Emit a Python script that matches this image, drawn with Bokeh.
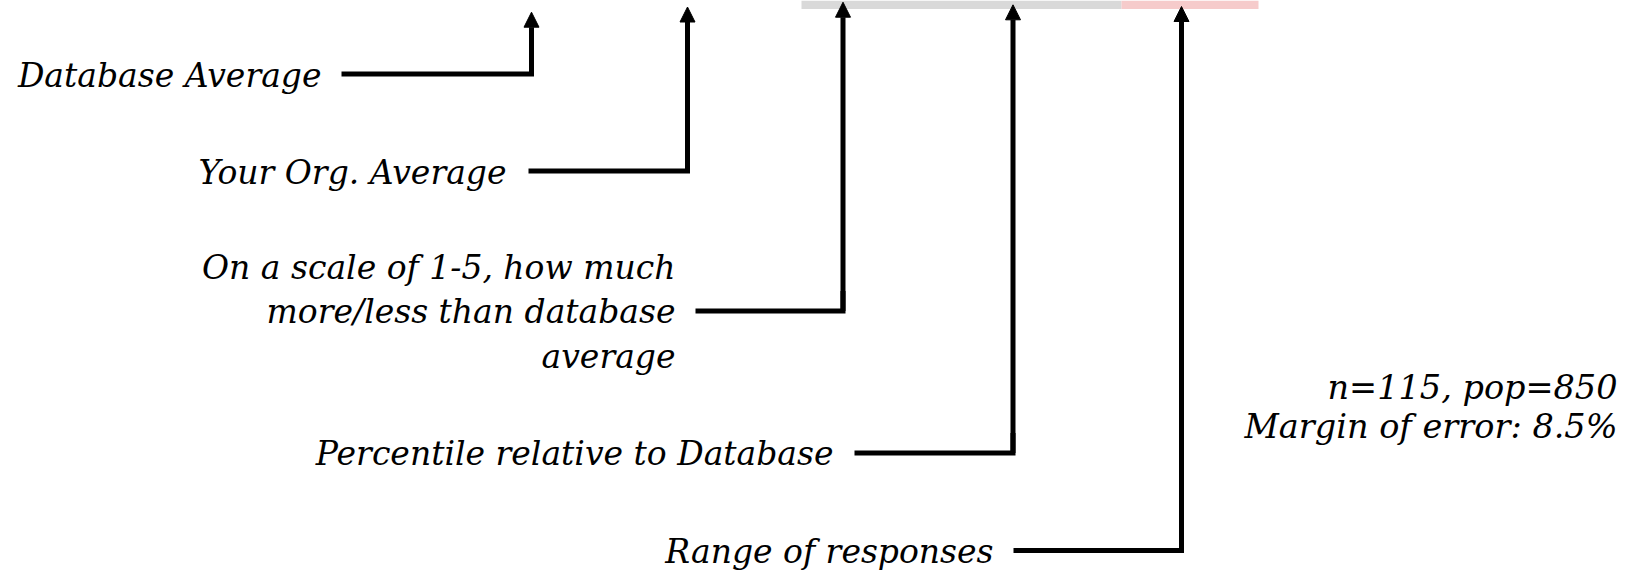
from bokeh.plotting import figure
from bokeh.models import Range1d, Arrow, NormalHead
from bokeh.core.properties import value
from bokeh.embed import file_html
from bokeh.resources import INLINE

# ---- data ----
bar_segments = ["Percentile", "Range"]
bar_left = [801, 1121]
bar_right = [1121, 1258]
bar_colors = ["#d9d9d9", "#f6cbcb"]

label_lines = [
    "Database Average",
    "Your Org. Average",
    "On a scale of 1-5, how much",
    "more/less than database",
    "average",
    "Percentile relative to Database",
    "Range of responses",
]
label_right = [321, 506, 675, 675, 675, 833, 993]
label_baseline = [75, 171.5, 267, 310.5, 356, 453, 551]

arrow_x = [531, 687, 842.5, 1012.5, 1181]
arrow_tip = [11.7, 6.5, 1.7, 4.3, 6.0]
elbow_y = [73.5, 170.5, 310.5, 452.5, 550]
line_start = [341, 528, 695, 854, 1013]

note_lines = ["n=115, pop=850", "Margin of error: 8.5%"]
note_right = [1617, 1617]
note_baseline = [386.5, 425.5]

# ---- figure ----
p = figure(width=1639, height=574, output_backend="svg", toolbar_location=None,
           x_range=Range1d(0, 1639), y_range=Range1d(574, 0),
           min_border=0, x_axis_location=None, y_axis_location=None,
           outline_line_color=None, background_fill_color="white",
           border_fill_color="white")
p.xgrid.visible = False
p.ygrid.visible = False

# bar
p.quad(left=bar_left, right=bar_right, top=[0, 0], bottom=[8.5, 8.5],
       fill_color=bar_colors, line_color=None)

# elbow lines
xs = [[s, ax, ax] for s, ax in zip(line_start, arrow_x)]
ys = [[e, e, e - 20] for e in elbow_y]
p.multi_line(xs=xs, ys=ys, line_color="black", line_width=5, line_join="miter", line_cap="butt")

# arrows
for ax, tip, e in zip(arrow_x, arrow_tip, elbow_y):
    p.add_layout(Arrow(end=NormalHead(size=15, fill_color="black", line_color="black", line_width=1),
                       x_start=ax, y_start=e, x_end=ax, y_end=tip,
                       line_color="black", line_width=5))

font = value("DejaVu Serif")
p.text(x=label_right, y=label_baseline, text=label_lines, text_font=font,
       text_font_style="italic", text_font_size="33px", text_align="right",
       text_baseline="alphabetic", text_color="black")
p.text(x=note_right, y=note_baseline, text=note_lines, text_font=font,
       text_font_style="italic", text_font_size="33.5px", text_align="right",
       text_baseline="alphabetic", text_color="black")

open("out.html", "w").write(file_html(p, INLINE))
